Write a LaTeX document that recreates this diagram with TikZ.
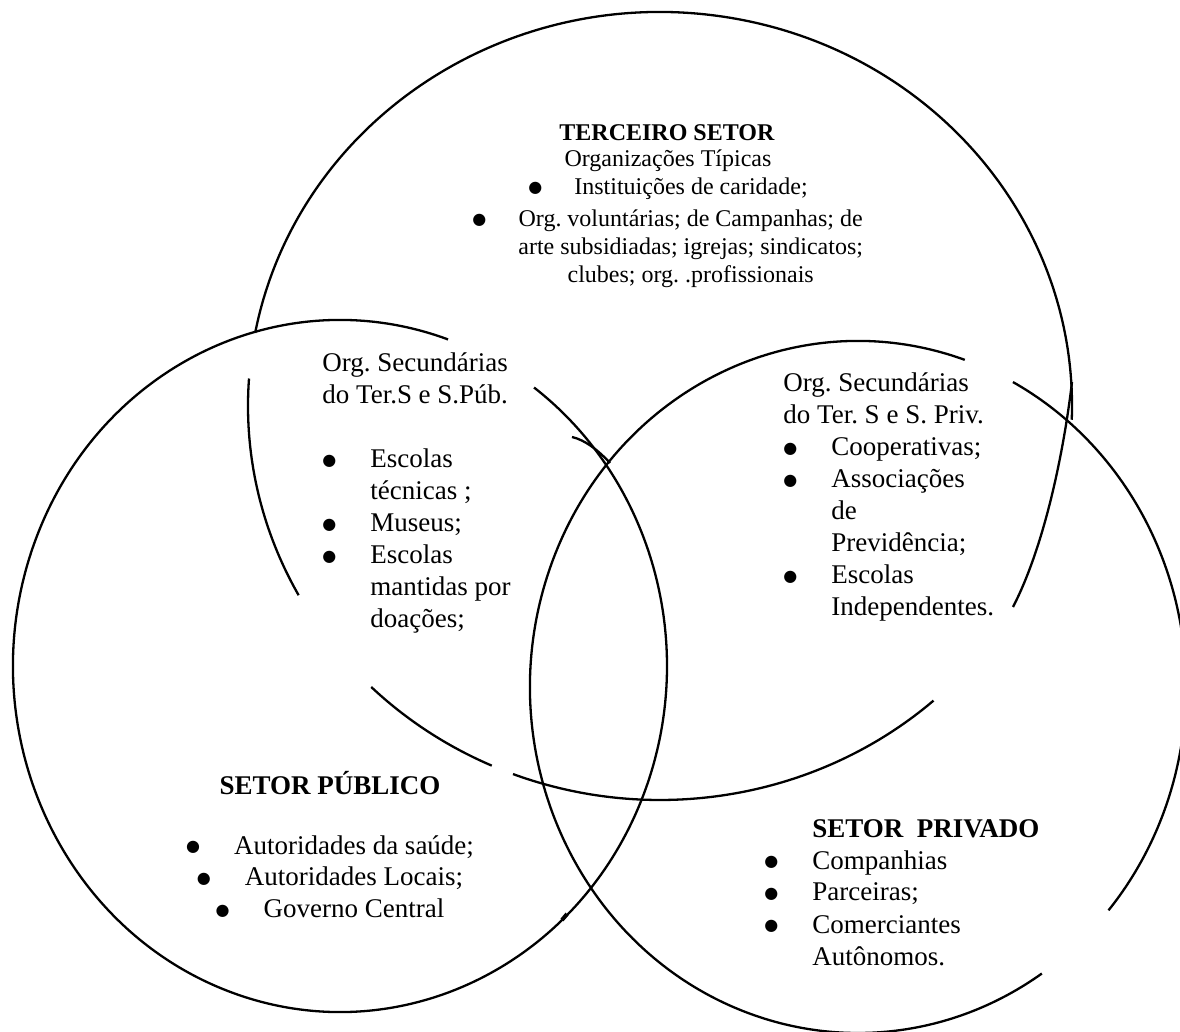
\documentclass[tikz,border=0pt]{standalone}
\usepackage{fontspec}
\setmainfont{Liberation Serif}
\newfontfamily\symfont{DejaVu Sans}
\frenchspacing

\newcommand{\bigbul}{\raisebox{1.4pt}{\symfont\fontsize{8}{8}\selectfont ●}}
\newcommand{\bul}{\makebox[24pt][l]{\bigbul}}
\newcommand{\bulsm}{\makebox[23pt][l]{\bigbul}}

\tikzset{
  rim/.style={line width=1.15pt},
  big/.style={font=\fontsize{13.5}{16}\selectfont},
  small/.style={font=\fontsize{12}{14}\selectfont}
}

\begin{document}
\begin{tikzpicture}[x=0.5pt,y=-0.5pt]

        \fill[white] (0,0) rectangle (1180,1032);
        \useasboundingbox (0,0) rectangle (1180,1032);

        \coordinate (ct) at (660,406);
        \coordinate (cl) at (340,666);
        \coordinate (cr) at (858,687);

        \begin{scope}[rim]
          % terceiro setor
          \draw ([shift={(190.7:412 and 394)}]ct) arc[start angle=190.7,end angle=362,x radius=412,y radius=394];
          \draw (1072,382) .. controls (1064,450) and (1045,545) .. (1013,607);
          \draw ([shift={(184:412 and 394)}]ct) arc[start angle=184,end angle=151.3,x radius=412,y radius=394];
          \draw ([shift={(134.5:412 and 394)}]ct) arc[start angle=134.5,end angle=114.1,x radius=412,y radius=394];
          \draw ([shift={(110.9:412 and 394)}]ct) arc[start angle=110.9,end angle=48.4,x radius=412,y radius=394];
          % setor publico
          \draw ([shift={(289.3:327 and 346)}]cl) arc[start angle=289.3,end angle=-53.6,x radius=327,y radius=346];
          \draw (572,437) .. controls (585,440) and (598,450) .. (610,463);
          \draw[line width=2pt] (562,920) -- (567,914);
          % setor privado
          \draw ([shift={(289:328 and 346)}]cr) arc[start angle=289,end angle=55.9,x radius=328,y radius=346];
          \draw ([shift={(-61.8:328 and 346)}]cr) arc[start angle=-61.8,end angle=40.2,x radius=328,y radius=346];
        \end{scope}

        \begin{scope}[every node/.style={inner sep=0pt,small}]
          \node[anchor=base] (ter) at (667,141) {\textbf{TERCEIRO SETOR}};
          \node[anchor=base] (tertip) at (668,167) {Organizações Típicas};
          \node[anchor=base west] (terinst) at (528,195) {\bulsm Instituições de caridade;};
          \node[anchor=base west] (terorg) at (472,227) {\begin{tabular}[t]{@{}l@{}c@{}}
            \bulsm & Org. voluntárias; de Campanhas; de\\
                   & arte subsidiadas; igrejas; sindicatos;\\
                   & clubes; org. .profissionais
          \end{tabular}};
        \end{scope}

        \begin{scope}[every node/.style={inner sep=0pt,big}]
          \node[anchor=base west] (secpub) at (322,372) {\begin{tabular}[t]{@{}l@{}l@{}}
            \multicolumn{2}{@{}l@{}}{Org. Secundárias}\\
            \multicolumn{2}{@{}l@{}}{do Ter.S e S.Púb.}\\[16pt]
            \bul & Escolas\\
                 & técnicas ;\\
            \bul & Museus;\\
            \bul & Escolas\\
                 & mantidas por\\
                 & doações;
          \end{tabular}};
          \node[anchor=base west] (secpriv) at (783,392) {\begin{tabular}[t]{@{}l@{}l@{}}
            \multicolumn{2}{@{}l@{}}{Org. Secundárias}\\
            \multicolumn{2}{@{}l@{}}{do Ter. S e S. Priv.}\\
            \bul & Cooperativas;\\
            \bul & Associações\\
                 & de\\
                 & Previdência;\\
            \bul & Escolas\\
                 & Independentes.
          \end{tabular}};
          \node[anchor=base] (pub) at (330,794) {\begin{tabular}[t]{@{}c@{}}
            \textbf{SETOR PÚBLICO}\\[14pt]
            \bul Autoridades da saúde;\\
            \bul Autoridades Locais;\\
            \bul Governo Central
          \end{tabular}};
          \node[anchor=base west] (priv) at (764,837) {\begin{tabular}[t]{@{}l@{}l@{}}
                 & \textbf{SETOR\ \ PRIVADO}\\
            \bul & Companhias\\
            \bul & Parceiras;\\
            \bul & Comerciantes\\
                 & Autônomos.
          \end{tabular}};
        \end{scope}

\end{tikzpicture}
\end{document}
